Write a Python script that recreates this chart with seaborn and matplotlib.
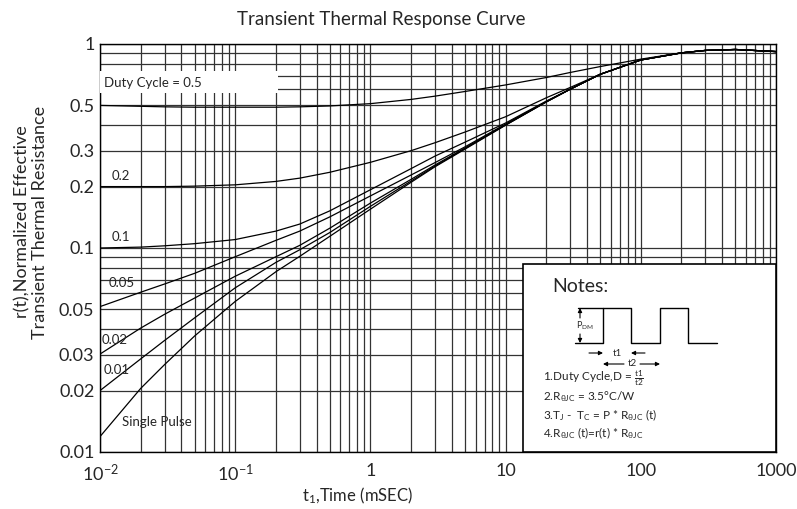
import numpy as np
import pandas as pd
import matplotlib
matplotlib.use("Agg")
import matplotlib.pyplot as plt
import seaborn as sns
from matplotlib.ticker import FixedLocator, LogLocator, NullFormatter
from matplotlib.patches import Rectangle

# pulse width t1 (mSEC)
t = [0.01, 0.02, 0.03, 0.05, 0.1, 0.2, 0.3, 0.5, 1, 2, 3, 5, 10, 20, 30, 50,
     100, 200, 300, 500, 1000]

# r(t), one list per duty cycle
r_d05 = [0.50, 0.495, 0.492, 0.49, 0.49, 0.49, 0.492, 0.497, 0.51, 0.535, 0.555,
         0.585, 0.63, 0.685, 0.725, 0.775, 0.843, 0.905, 0.93, 0.94, 0.918]
r_d02 = [0.20, 0.20, 0.20, 0.201, 0.204, 0.212, 0.22, 0.235, 0.263, 0.30, 0.328,
         0.37, 0.44, 0.545, 0.612, 0.71, 0.835, 0.905, 0.93, 0.94, 0.918]
r_d01 = [0.100, 0.101, 0.1025, 0.105, 0.110, 0.121, 0.131, 0.152, 0.193, 0.245,
         0.282, 0.330, 0.41, 0.525, 0.60, 0.71, 0.835, 0.905, 0.93, 0.94, 0.918]
r_d005 = [0.0516, 0.0607, 0.0666, 0.0751, 0.0906, 0.109, 0.121, 0.142, 0.180,
          0.228, 0.262, 0.313, 0.405, 0.522, 0.60, 0.71, 0.835, 0.905, 0.93, 0.94, 0.918]
r_d002 = [0.0302, 0.0405, 0.0473, 0.0568, 0.0727, 0.0906, 0.103, 0.125, 0.166,
          0.217, 0.255, 0.309, 0.402, 0.521, 0.60, 0.71, 0.835, 0.905, 0.93, 0.94, 0.918]
r_d001 = [0.020, 0.0286, 0.0352, 0.0454, 0.0638, 0.085, 0.098, 0.119, 0.160,
          0.213, 0.252, 0.307, 0.401, 0.52, 0.60, 0.71, 0.835, 0.905, 0.93, 0.94, 0.918]
r_single = [0.0119, 0.0205, 0.0268, 0.037, 0.0547, 0.0765, 0.091, 0.114, 0.155,
            0.21, 0.25, 0.305, 0.40, 0.52, 0.60, 0.71, 0.835, 0.905, 0.93, 0.94, 0.918]

curves = {"0.5": r_d05, "0.2": r_d02, "0.1": r_d01, "0.05": r_d005,
          "0.02": r_d002, "0.01": r_d001, "single": r_single}

df = pd.concat([pd.DataFrame({"t": t, "r": v, "curve": k}) for k, v in curves.items()],
               ignore_index=True)

yticks = [0.01, 0.02, 0.03, 0.05, 0.1, 0.2, 0.3, 0.5, 1]
ytick_labels = ["0.01", "0.02", "0.03", "0.05", "0.1", "0.2", "0.3", "0.5", "1"]
xticks = [0.01, 0.1, 1, 10, 100, 1000]
xtick_labels = [r"$\mathregular{10^{-2}}$", r"$\mathregular{10^{-1}}$", "1", "10", "100", "1000"]

sns.set_style("white")
plt.rcParams["font.family"] = ["Lato", "DejaVu Sans"]
plt.rcParams["mathtext.fontset"] = "custom"
plt.rcParams["mathtext.rm"] = "Lato"
plt.rcParams["mathtext.it"] = "Lato"

fig = plt.figure(figsize=(7.97, 5.09), dpi=100)
ax = fig.add_axes([100 / 797, 1 - 452 / 509, 676 / 797, 408 / 509])

sns.lineplot(data=df, x="t", y="r", units="curve", estimator=None, color="black",
             linewidth=0.9, ax=ax, legend=False, zorder=3)

ax.set_xscale("log")
ax.set_yscale("log")
ax.set_xlim(0.01, 1000)
ax.set_ylim(0.01, 1)

ax.xaxis.set_major_locator(FixedLocator(xticks))
ax.set_xticklabels(xtick_labels)
ax.xaxis.set_minor_locator(LogLocator(base=10, subs=range(2, 10), numticks=20))
ax.xaxis.set_minor_formatter(NullFormatter())
ax.yaxis.set_major_locator(FixedLocator(yticks))
ax.set_yticklabels(ytick_labels)
ax.yaxis.set_minor_locator(LogLocator(base=10, subs=range(2, 10), numticks=20))
ax.yaxis.set_minor_formatter(NullFormatter())

ax.tick_params(axis="both", which="both", length=0, labelsize=13)
ax.tick_params(axis="x", pad=8)
ax.tick_params(axis="y", pad=4)
ax.grid(True, which="both", color="#333333", linewidth=0.9)
ax.set_axisbelow(True)
for s in ax.spines.values():
    s.set_color("black")
    s.set_linewidth(1.0)
ax.set_xlabel("")
ax.set_ylabel("")

# curve labels
ax.text(0.0121, 0.226, "0.2", fontsize=9.5, va="center", zorder=4)
ax.text(0.0121, 0.113, "0.1", fontsize=9.5, va="center", zorder=4)
ax.text(0.0115, 0.0676, "0.05", fontsize=9.5, va="center", zorder=4)
ax.text(0.01035, 0.0356, "0.02", fontsize=9.5, va="center", zorder=4)
ax.text(0.0106, 0.0252, "0.01", fontsize=9.5, va="center", zorder=4)
ax.text(0.0146, 0.0140, "Single Pulse", fontsize=9.5, va="center", zorder=4)

fig.text(381 / 797, 1 - 20 / 509, "Transient Thermal Response Curve",
         ha="center", va="center", fontsize=13.5)
fig.text(31 / 797, 1 - 222 / 509, "r(t),Normalized Effective\nTransient Thermal Resistance",
         rotation=90, ha="center", va="center", fontsize=13, linespacing=1.15)
fig.text(358 / 797, 1 - 496 / 509, r"$\mathregular{t_1}$,Time (mSEC)",
         ha="center", va="center", fontsize=12)

# overlay in pixel coordinates for the boxes and the notes sketch
ov = fig.add_axes([0, 0, 1, 1], zorder=5)
ov.set_xlim(0, 797)
ov.set_ylim(509, 0)
ov.axis("off")
ov.patch.set_visible(False)

ov.add_patch(Rectangle((100.5, 71), 178, 22, facecolor="white", edgecolor="none"))
ov.text(104, 83, "Duty Cycle = 0.5", va="center", fontsize=9.5)

ov.add_patch(Rectangle((523, 264), 253, 188, facecolor="white", edgecolor="black", linewidth=1.2))
ov.text(552, 287, "Notes:", va="center", fontsize=14)

ov.plot([575, 603, 603, 631, 631, 660, 660, 688, 688, 717],
        [343, 343, 308, 308, 343, 343, 308, 308, 343, 343], color="black", linewidth=1)
ov.plot([578, 603], [308, 308], color="black", linewidth=1)
arrow = dict(arrowstyle="-|>", color="black", linewidth=0.8, mutation_scale=6,
             shrinkA=0, shrinkB=0)
ov.annotate("", xy=(580, 308), xytext=(580, 318), arrowprops=arrow)
ov.annotate("", xy=(580, 343), xytext=(580, 334), arrowprops=arrow)
ov.text(576, 326, r"P$_{\mathregular{DM}}$", va="center", fontsize=6.5)
ov.annotate("", xy=(603, 353), xytext=(589, 353), arrowprops=arrow)
ov.annotate("", xy=(631, 353), xytext=(645, 353), arrowprops=arrow)
ov.text(617, 353, "t1", ha="center", va="center", fontsize=7)
ov.annotate("", xy=(603, 364), xytext=(624, 364), arrowprops=arrow)
ov.annotate("", xy=(660, 364), xytext=(640, 364), arrowprops=arrow)
ov.text(632, 364, "t2", ha="center", va="center", fontsize=7)

ov.text(543, 378, r"1.Duty Cycle,D = $\frac{\mathregular{t1}}{\mathregular{t2}}$",
        va="center", fontsize=8.5)
ov.text(543, 397, r"2.R$_{\theta JC}$ = 3.5°C/W", va="center", fontsize=8.5)
ov.text(543, 415, r"3.T$_J$ -  T$_C$ = P * R$_{\theta JC}$ (t)", va="center", fontsize=8.5)
ov.text(543, 433, r"4.R$_{\theta JC}$ (t)=r(t) * R$_{\theta JC}$", va="center", fontsize=8.5)

fig.savefig("out.png", dpi=100)
